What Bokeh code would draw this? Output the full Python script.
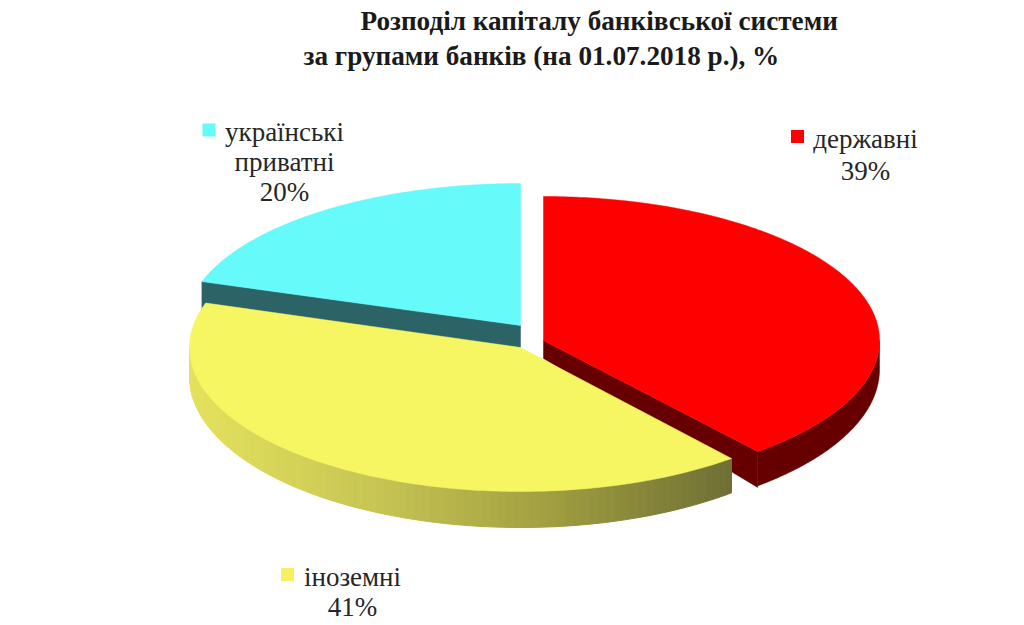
import numpy as np
from bokeh.plotting import figure
from bokeh.models import Range1d
from bokeh.core.properties import value
from bokeh.embed import file_html
from bokeh.resources import INLINE

title_lines = ["Розподіл капіталу банківської системи", "за групами банків (на 01.07.2018 р.), %"]
categories = ["державні", "іноземні", "українські приватні"]
label_lines = [["державні"], ["іноземні"], ["українські", "приватні"]]
shares = [39, 41, 20]
top_colors = ["#FE0000", "#F6F562", "#66FAFB"]
wall_colors = ["#660000", "#6E6E35", "#2C6366"]
key_colors = ["#FE0000", "#F8F060", "#66FAFB"]

# layout of the exploded slices (page pixels)
centers = [(543, 340), (520, 347), (520, 325)]
radii = [(336, 144), (331, 144), (335, 142)]
apex_depth = [18, 36, 22]
tip_depth = [36, 36, 29]
key_pos = [(797, 136), (287, 574), (208.5, 129.5)]
label_x = [865, 352, 284]
label_y = [[138], [576], [131, 161]]
pct_y = [170, 606, 191]
title_x = [360, 303]
title_y = [20, 55]

yellow_stops_x = [189, 370, 550, 735]
yellow_stops_rgb = [(228, 226, 92), (200, 198, 84), (160, 158, 64), (110, 110, 53)]

p = figure(width=1020, height=622, output_backend="svg", toolbar_location=None,
           x_range=Range1d(0, 1020), y_range=Range1d(622, 0), min_border=0,
           outline_line_color=None, background_fill_color="white", border_fill_color="white")
p.axis.visible = False
p.grid.visible = False


def depth(t):
    return 29 - 7 * np.cos(t)


def rim(i, t):
    cx, cy = centers[i]
    rx, ry = radii[i]
    return cx + rx * np.sin(t), cy - ry * np.cos(t)


def hexcol(rgb):
    return "#%02X%02X%02X" % tuple(int(round(c)) for c in rgb)


starts = np.concatenate([[0], np.cumsum(shares)[:-1]]) / 100 * 2 * np.pi
ends = np.cumsum(shares) / 100 * 2 * np.pi

for i in [2, 0, 1]:
    t0, t1 = starts[i], ends[i]
    cx, cy = centers[i]
    tipx0, tipy0 = rim(i, t0)
    tipx1, tipy1 = rim(i, t1)
    # radial walls
    if i == 2:
        p.patch([cx, tipx0, tipx0, cx], [cy, tipy0, tipy0 + tip_depth[i], cy + apex_depth[i]],
                fill_color=wall_colors[i], line_color=wall_colors[i], line_width=0.5)
    if i == 0:
        p.patch([cx, tipx1, tipx1, cx], [cy, tipy1, tipy1 + tip_depth[i], cy + apex_depth[i]],
                fill_color=wall_colors[i], line_color=wall_colors[i], line_width=0.5)
    # outer rim walls on the visible front half
    a = max(t0, np.pi / 2)
    b = min(t1, 3 * np.pi / 2)
    if b > a and i == 0:
        tt = np.linspace(a, b, 120)
        rx_, ry_ = rim(i, tt)
        p.patch(np.concatenate([rx_, rx_[::-1]]),
                np.concatenate([ry_, (ry_ + depth(tt))[::-1]]),
                fill_color=wall_colors[i], line_color=wall_colors[i], line_width=0.5)
    if b > a and i == 1:
        edges = np.linspace(a, b, 90)
        xs, ys, cols = [], [], []
        for u, v in zip(edges[:-1], edges[1:]):
            x0, y0 = rim(i, u)
            x1, y1 = rim(i, v)
            xs.append([x0, x1, x1, x0])
            ys.append([y0, y1, y1 + depth(v), y0 + depth(u)])
            mid = (x0 + x1) / 2
            cols.append(hexcol([np.interp(mid, yellow_stops_x, [s[k] for s in yellow_stops_rgb]) for k in range(3)]))
        p.patches(xs, ys, fill_color=cols, line_color=cols, line_width=1)
    # top face
    tt = np.linspace(t0, t1, 200)
    fx, fy = rim(i, tt)
    p.patch(np.concatenate([[cx], fx]), np.concatenate([[cy], fy]),
            fill_color=top_colors[i], line_color=top_colors[i], line_width=0.5)

serif = value("Liberation Serif")
p.text(title_x, title_y, text=title_lines, text_font=serif,
       text_font_size=value("27.2px"), text_font_style="bold", text_color="#1A1A1A",
       text_align="left", text_baseline="alphabetic")

p.scatter([k[0] for k in key_pos], [k[1] for k in key_pos], marker="square", size=13,
          fill_color=key_colors, line_color=None)

for i in range(3):
    for line, y in zip(label_lines[i], label_y[i]):
        p.text([label_x[i]], [y], text=[line], text_font=serif, text_font_size=value("27px"),
               text_color="#262626", text_align="center", text_baseline="alphabetic")
    p.text([label_x[i]], [pct_y[i]], text=[f"{shares[i]}%"], text_font=serif,
           text_font_size=value("27px"), text_color="#262626", text_align="center",
           text_baseline="alphabetic")

open("out.html", "w").write(file_html(p, INLINE))
